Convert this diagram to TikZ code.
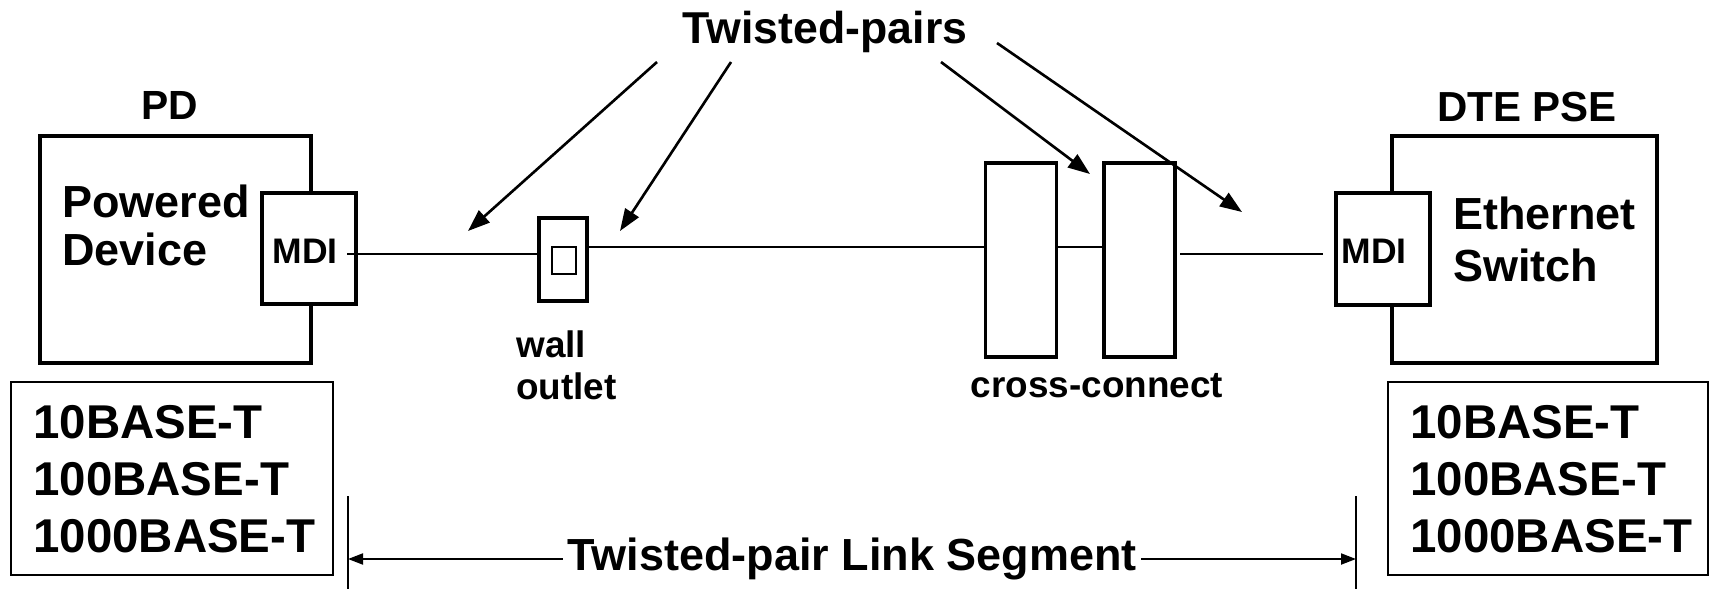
\documentclass[tikz,border=0pt]{standalone}
\usepackage{fontspec}
\setmainfont{Liberation Sans}
\usepackage{tikz}
\usetikzlibrary{arrows.meta}

\begin{document}
\begin{tikzpicture}[x=0.02cm, y=-0.02cm,
        box/.style={draw, line width=1.8pt, fill=white, inner sep=0pt},
        thinbox/.style={draw, line width=1.4pt, inner sep=0pt},
        wire/.style={line width=1.2pt},
        pointer/.style={line width=1.5pt, -{Triangle[length=0.44cm, width=0.32cm]}},
        dim/.style={line width=1.1pt, {Triangle[length=0.3cm, width=0.22cm]}-{Triangle[length=0.3cm, width=0.22cm]}},
        lbl/.style 2 args={font=\bfseries\fontsize{#1}{#2}\selectfont, inner sep=0pt}]
        \useasboundingbox (0,0) rectangle (1711,589);

        \node[lbl={25.4}{30}, anchor=base] (pairs) at (825,43) {Twisted-pairs};
        \node[lbl={23.2}{28}, anchor=base] (pd) at (170,119) {PD};
        \node[lbl={23.9}{28}, anchor=base] (pse) at (1527,121) {DTE PSE};

        % powered device
        \node[box, minimum width=5.42cm, minimum height=4.54cm] (pdbox) at (175.5,249.5) {};
        \node[lbl={25.6}{27.3}, align=left, anchor=west] (pdname) at (62,225.5) {Powered\\Device};
        \node[box, minimum width=1.88cm, minimum height=2.22cm] (mdiL) at (309,248.5) {};
        \node[lbl={20.2}{24}, anchor=base] (mdiLt) at (305,263) {MDI};

        % wall outlet
        \node[box, minimum width=0.96cm, minimum height=1.66cm] (outlet) at (563,259.5) {};
        \node[thinbox, minimum width=0.48cm, minimum height=0.54cm] (jack) at (564,260.5) {};
        \node[lbl={21}{23.9}, align=left, anchor=north west] (walltxt) at (516,330.5) {wall\\outlet};

        % cross-connect
        \node[box, minimum width=1.42cm, minimum height=3.88cm] (ccA) at (1021,260) {};
        \node[box, minimum width=1.42cm, minimum height=3.88cm] (ccB) at (1139.5,260) {};
        \node[lbl={21}{24}, anchor=base] (cctxt) at (1097,397) {cross-connect};

        % switch
        \node[box, minimum width=5.3cm, minimum height=4.54cm] (psebox) at (1524.5,249.5) {};
        \node[lbl={25.6}{29.6}, align=left, anchor=west] (psename) at (1453,239.5) {Ethernet\\Switch};
        \node[box, minimum width=1.88cm, minimum height=2.24cm] (mdiR) at (1383,249) {};
        \node[lbl={20.2}{24}, anchor=base] (mdiRt) at (1374,263) {MDI};

        % standards
        \node[thinbox, minimum width=6.44cm, minimum height=3.86cm] (stdL) at (172,478.5) {};
        \node[lbl={27}{32.4}, align=left, anchor=west] (stdLt) at (33,479.5) {10BASE-T\\100BASE-T\\1000BASE-T};
        \node[thinbox, minimum width=6.4cm, minimum height=3.86cm] (stdR) at (1548,478.5) {};
        \node[lbl={27}{32.4}, align=left, anchor=west] (stdRt) at (1410,479.5) {10BASE-T\\100BASE-T\\1000BASE-T};

        % cabling
        \coordinate (wireL) at (347,254);
        \coordinate (wireR) at (1180,254);
        \coordinate (wireE) at (1323,254);
        \coordinate (hi) at (0,247);
        \draw[wire] (wireL) -- (wireL -| outlet.west);
        \draw[wire, line width=1.45pt] (outlet.east |- hi) -- (ccA.west |- hi);
        \draw[wire] (ccA.east |- hi) -- (ccB.west |- hi);
        \draw[wire] (wireR) -- (wireE);

        % pointers
        \coordinate (p1) at (657,62);
        \coordinate (t1) at (468,231);
        \coordinate (p2) at (731,62);
        \coordinate (t2) at (620,231);
        \coordinate (p3) at (941,62);
        \coordinate (t3) at (1090,174);
        \coordinate (p4) at (997,43);
        \coordinate (t4) at (1242,212);
        \draw[pointer] (p1) -- (t1);
        \draw[pointer] (p2) -- (t2);
        \draw[pointer] (p3) -- (t3);
        \draw[pointer] (p4) -- (t4);

        % link segment
        \coordinate (segL) at (348,559);
        \coordinate (segR) at (1356,559);
        \draw[line width=1.1pt] (348,496) -- (348,589);
        \draw[line width=1.1pt] (1356,496) -- (1356,589);
        \draw[dim] (segL) -- node[lbl={25.6}{30}, fill=white, inner xsep=0.1cm] (segtxt) {Twisted-pair Link Segment} (segR);
    \end{tikzpicture}
\end{document}
